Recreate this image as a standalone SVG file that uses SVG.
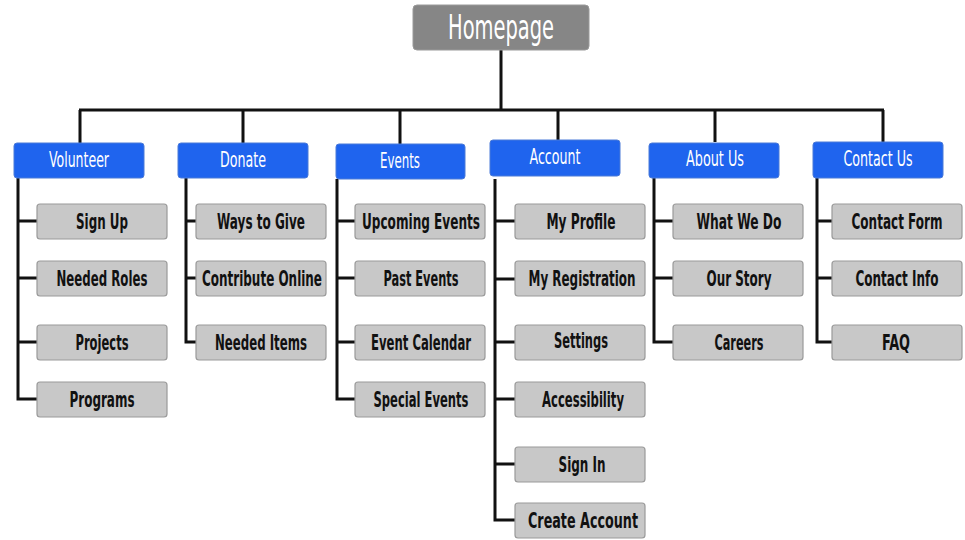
<svg xmlns="http://www.w3.org/2000/svg" width="965" height="540" viewBox="0 0 965 540">
<style>
.root{fill:#868686;stroke:#9a9a9a;stroke-width:1}
.cat{fill:#1f64ee;stroke:#4a7ad8;stroke-width:1}
.leaf{fill:#c8c8c8;stroke:#9a9a9a;stroke-width:1.2}
.t{font-family:"Liberation Sans Narrow","DejaVu Sans Condensed","DejaVu Sans",sans-serif;font-stretch:condensed;text-anchor:middle}
.rt{fill:#ffffff;font-size:33px}
.ct{fill:#ffffff;font-size:20.5px}
.lt{fill:#111111;font-size:22px;font-weight:bold}
.ln{fill:none;stroke:#111111;stroke-width:3}
</style>
<rect width="965" height="540" fill="#ffffff"/>
<g id="connectors">
<path class="ln" d="M501 50V110M79 110H884M80 110V143M243 110V143M400 110V144M558 110V140M715 110V142M883 110V142"/>
<path class="ln" d="M18 178V399H37M18 221H37M18 278H37M18 342H37"/>
<path class="ln" d="M186 178V342H196M186 221H196M186 278H196"/>
<path class="ln" d="M337 179V399H355M337 221H355M337 278H355M337 342H355"/>
<path class="ln" d="M495 179V520H515M495 221H515M495 279H515M495 342H515M495 399H515M495 464H515"/>
<path class="ln" d="M654 178V342H673M654 221H673M654 278H673"/>
<path class="ln" d="M817 178V342H833M817 221H833M817 278H833"/>
</g>
<g id="homepage"><rect class="root" x="413" y="5" width="176" height="45" rx="4"/><text class="t rt" x="501" y="39" textLength="106" lengthAdjust="spacingAndGlyphs">Homepage</text></g>

<g id="volunteer"><rect class="cat" x="14" y="143" width="130" height="35" rx="3"/><text class="t ct" x="79" y="167" textLength="60" lengthAdjust="spacingAndGlyphs">Volunteer</text></g>
<g id="donate"><rect class="cat" x="178" y="143" width="130" height="35" rx="3"/><text class="t ct" x="243" y="167" textLength="46" lengthAdjust="spacingAndGlyphs">Donate</text></g>
<g id="events"><rect class="cat" x="336" y="144" width="129" height="35" rx="3"/><text class="t ct" x="400" y="168" textLength="40" lengthAdjust="spacingAndGlyphs">Events</text></g>
<g id="account"><rect class="cat" x="490" y="140" width="130" height="36" rx="3"/><text class="t ct" x="555" y="164" textLength="51" lengthAdjust="spacingAndGlyphs">Account</text></g>
<g id="about-us"><rect class="cat" x="649" y="143" width="130" height="35" rx="3"/><text class="t ct" x="715" y="166" textLength="58" lengthAdjust="spacingAndGlyphs">About Us</text></g>
<g id="contact-us"><rect class="cat" x="813" y="142" width="130" height="36" rx="3"/><text class="t ct" x="878" y="166" textLength="69" lengthAdjust="spacingAndGlyphs">Contact Us</text></g>

<g id="sign-up"><rect class="leaf" x="37" y="204" width="130" height="35" rx="3"/><text class="t lt" x="102" y="229" textLength="52" lengthAdjust="spacingAndGlyphs">Sign Up</text></g>
<g id="needed-roles"><rect class="leaf" x="37" y="261" width="130" height="35" rx="3"/><text class="t lt" x="102" y="286" textLength="91" lengthAdjust="spacingAndGlyphs">Needed Roles</text></g>
<g id="projects"><rect class="leaf" x="37" y="325" width="130" height="35" rx="3"/><text class="t lt" x="102" y="350" textLength="53" lengthAdjust="spacingAndGlyphs">Projects</text></g>
<g id="programs"><rect class="leaf" x="37" y="382" width="130" height="35" rx="3"/><text class="t lt" x="102" y="407" textLength="65" lengthAdjust="spacingAndGlyphs">Programs</text></g>

<g id="ways-to-give"><rect class="leaf" x="196" y="204" width="130" height="35" rx="3"/><text class="t lt" x="261" y="229" textLength="88" lengthAdjust="spacingAndGlyphs">Ways to Give</text></g>
<g id="contribute-online"><rect class="leaf" x="196" y="261" width="130" height="35" rx="3"/><text class="t lt" x="262" y="286" textLength="120" lengthAdjust="spacingAndGlyphs">Contribute Online</text></g>
<g id="needed-items"><rect class="leaf" x="196" y="325" width="130" height="35" rx="3"/><text class="t lt" x="261" y="350" textLength="92" lengthAdjust="spacingAndGlyphs">Needed Items</text></g>

<g id="upcoming-events"><rect class="leaf" x="355" y="204" width="130" height="35" rx="3"/><text class="t lt" x="421" y="229" textLength="118" lengthAdjust="spacingAndGlyphs">Upcoming Events</text></g>
<g id="past-events"><rect class="leaf" x="355" y="261" width="130" height="35" rx="3"/><text class="t lt" x="421" y="286" textLength="75" lengthAdjust="spacingAndGlyphs">Past Events</text></g>
<g id="event-calendar"><rect class="leaf" x="355" y="325" width="130" height="35" rx="3"/><text class="t lt" x="421" y="350" textLength="100" lengthAdjust="spacingAndGlyphs">Event Calendar</text></g>
<g id="special-events"><rect class="leaf" x="355" y="382" width="130" height="35" rx="3"/><text class="t lt" x="421" y="407" textLength="95" lengthAdjust="spacingAndGlyphs">Special Events</text></g>

<g id="my-profile"><rect class="leaf" x="515" y="204" width="130" height="35" rx="3"/><text class="t lt" x="581" y="229" textLength="69" lengthAdjust="spacingAndGlyphs">My Profile</text></g>
<g id="my-registration"><rect class="leaf" x="515" y="261" width="130" height="35" rx="3"/><text class="t lt" x="582" y="286" textLength="107" lengthAdjust="spacingAndGlyphs">My Registration</text></g>
<g id="settings"><rect class="leaf" x="515" y="325" width="130" height="35" rx="3"/><text class="t lt" x="581" y="348" textLength="54" lengthAdjust="spacingAndGlyphs">Settings</text></g>
<g id="accessibility"><rect class="leaf" x="515" y="382" width="130" height="35" rx="3"/><text class="t lt" x="583" y="407" textLength="82" lengthAdjust="spacingAndGlyphs">Accessibility</text></g>
<g id="sign-in"><rect class="leaf" x="515" y="447" width="130" height="35" rx="3"/><text class="t lt" x="582" y="472" textLength="47" lengthAdjust="spacingAndGlyphs">Sign In</text></g>
<g id="create-account"><rect class="leaf" x="515" y="503" width="130" height="35" rx="3"/><text class="t lt" x="583" y="528" textLength="110" lengthAdjust="spacingAndGlyphs">Create Account</text></g>

<g id="what-we-do"><rect class="leaf" x="673" y="204" width="130" height="35" rx="3"/><text class="t lt" x="739" y="229" textLength="85" lengthAdjust="spacingAndGlyphs">What We Do</text></g>
<g id="our-story"><rect class="leaf" x="673" y="261" width="130" height="35" rx="3"/><text class="t lt" x="739" y="286" textLength="65" lengthAdjust="spacingAndGlyphs">Our Story</text></g>
<g id="careers"><rect class="leaf" x="673" y="325" width="130" height="35" rx="3"/><text class="t lt" x="739" y="350" textLength="49" lengthAdjust="spacingAndGlyphs">Careers</text></g>

<g id="contact-form"><rect class="leaf" x="832" y="204" width="130" height="35" rx="3"/><text class="t lt" x="897" y="229" textLength="91" lengthAdjust="spacingAndGlyphs">Contact Form</text></g>
<g id="contact-info"><rect class="leaf" x="832" y="261" width="130" height="35" rx="3"/><text class="t lt" x="897" y="286" textLength="83" lengthAdjust="spacingAndGlyphs">Contact Info</text></g>
<g id="faq"><rect class="leaf" x="832" y="325" width="130" height="35" rx="3"/><text class="t lt" x="896" y="350" textLength="28" lengthAdjust="spacingAndGlyphs">FAQ</text></g>
</svg>
